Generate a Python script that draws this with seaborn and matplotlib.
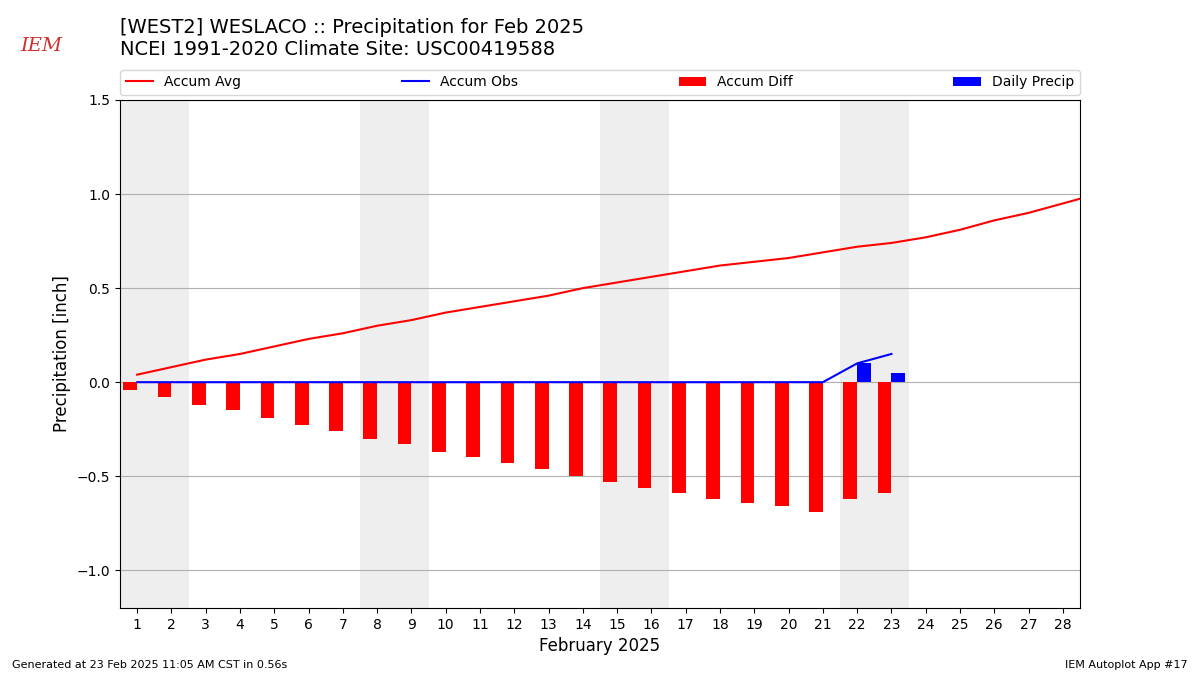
import numpy as np
import pandas as pd
import matplotlib
matplotlib.use("Agg")
import matplotlib.pyplot as plt
import seaborn as sns

# -------------------- DATA ---------------------------------
avg_days = list(range(1, 30))
accum_avg = [0.04, 0.08, 0.12, 0.15, 0.19, 0.23, 0.26, 0.30, 0.33, 0.37,
             0.40, 0.43, 0.46, 0.50, 0.53, 0.56, 0.59, 0.62, 0.64, 0.66,
             0.69, 0.72, 0.74, 0.77, 0.81, 0.86, 0.90, 0.95, 1.00]

obs_days = list(range(1, 24))
accum_obs = [0.0] * 21 + [0.10, 0.15]

precip_days = [22, 23]
daily_precip = [0.10, 0.05]

weekend_starts = [1, 8, 15, 22]

df_avg = pd.DataFrame({"day": avg_days, "precip": accum_avg})
df_obs = pd.DataFrame({"day": obs_days, "precip": accum_obs})
diff = np.array(accum_obs) - np.array(accum_avg[:len(obs_days)])

# -------------------- PLOT ---------------------------------
fig = plt.figure(figsize=(12, 6.75), dpi=100)
ax = fig.add_axes([0.1, 0.0993, 0.8, 0.7526])

for d in weekend_starts:
    ax.axvspan(d - 0.5, d + 1.5, color="#eeeeee", zorder=0, lw=0)

sns.lineplot(data=df_avg, x="day", y="precip", color="red", ax=ax,
             label="Accum Avg", zorder=3)
sns.lineplot(data=df_obs, x="day", y="precip", color="blue", ax=ax,
             label="Accum Obs", zorder=4)
ax.bar(obs_days, diff, width=-0.4, align="edge", color="red",
       label="Accum Diff", zorder=2)
ax.bar(precip_days, daily_precip, width=0.4, align="edge", color="blue",
       label="Daily Precip", zorder=2)

ax.set_xlim(0.5, 28.5)
ax.set_ylim(-1.2, 1.5)
ax.set_xticks(range(1, 29))
ax.set_yticks([-1.0, -0.5, 0.0, 0.5, 1.0, 1.5])
ax.grid(axis="y", color="#b0b0b0")
ax.set_axisbelow(True)
ax.set_xlabel("February 2025", fontsize=12)
ax.set_ylabel("Precipitation [inch]", fontsize=12)

ax.legend(loc="lower left", bbox_to_anchor=(0, 1.01, 1, 0.05), ncol=4,
          mode="expand", borderaxespad=0, fontsize=10)

fig.text(0.1, 0.913, "[WEST2] WESLACO :: Precipitation for Feb 2025\n"
         "NCEI 1991-2020 Climate Site: USC00419588",
         fontsize=14, va="bottom", ha="left")
fig.text(0.017, 0.925, "IEM", color="#d03030", fontsize=14,
         family="DejaVu Serif", style="italic")
fig.text(0.01, 0.01, "Generated at 23 Feb 2025 11:05 AM CST in 0.56s",
         fontsize=8)
fig.text(0.99, 0.01, "IEM Autoplot App #17", fontsize=8, ha="right")

fig.savefig("out.png", dpi=100)
